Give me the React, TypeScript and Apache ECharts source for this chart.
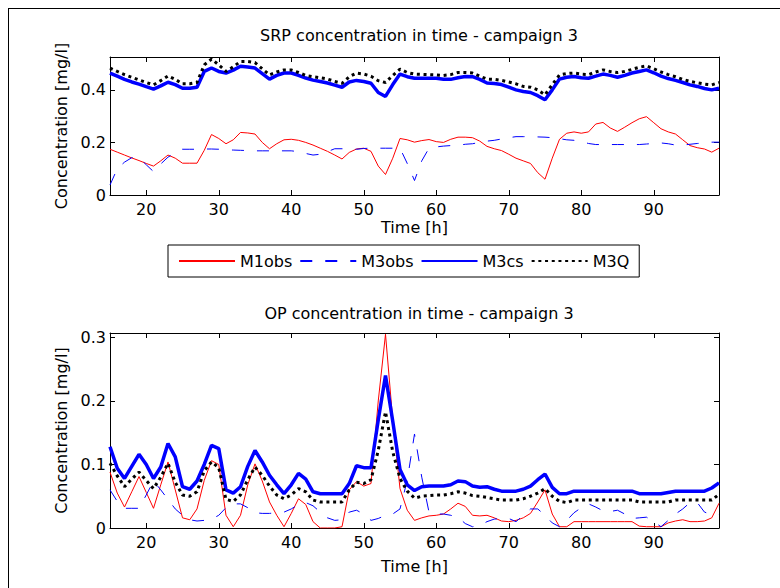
import React, { useEffect, useRef } from "react";
import * as echarts from "echarts";

// Time [h] for every sample: 15 .. 99
const hours: number[] = Array.from({ length: 85 }, (_, i) => 15 + i);

// ---- SRP (top) ----
const srpM1obs = [
  0.174, 0.163, 0.152, 0.141, 0.131, 0.120, 0.110, 0.130, 0.152, 0.140,
  0.121, 0.121, 0.121, 0.170, 0.230, 0.215, 0.195, 0.210, 0.238, 0.236,
  0.232, 0.200, 0.176, 0.195, 0.210, 0.212, 0.208, 0.200, 0.190, 0.178,
  0.166, 0.152, 0.137, 0.162, 0.175, 0.178, 0.166, 0.110, 0.078, 0.140,
  0.215, 0.210, 0.201, 0.207, 0.211, 0.203, 0.200, 0.212, 0.220, 0.220,
  0.218, 0.205, 0.185, 0.176, 0.169, 0.155, 0.140, 0.130, 0.120, 0.085,
  0.060, 0.140, 0.212, 0.235, 0.240, 0.235, 0.240, 0.270, 0.276, 0.255,
  0.242, 0.258, 0.275, 0.290, 0.298, 0.275, 0.252, 0.240, 0.232, 0.210,
  0.188, 0.180, 0.175, 0.163, 0.178,
];
const srpM3obs = [
  0.038, 0.100, 0.125, 0.142, 0.142, 0.115, 0.089, 0.118, 0.144, 0.160,
  0.174, 0.174, 0.174, 0.175, 0.175, 0.174, 0.172, 0.171, 0.170, 0.169,
  0.168, 0.168, 0.168, 0.168, 0.168, 0.168, 0.165, 0.158, 0.152, 0.155,
  0.165, 0.176, 0.176, 0.175, 0.174, 0.177, 0.178, 0.178, 0.178, 0.178,
  0.178, 0.120, 0.055, 0.130, 0.178, 0.183, 0.186, 0.188, 0.189, 0.193,
  0.195, 0.200, 0.205, 0.208, 0.213, 0.218, 0.222, 0.222, 0.222, 0.221,
  0.220, 0.218, 0.214, 0.210, 0.208, 0.203, 0.196, 0.192, 0.192, 0.192,
  0.192, 0.192, 0.192, 0.192, 0.194, 0.196, 0.198, 0.195, 0.190, 0.190,
  0.193, 0.196, 0.198, 0.201, 0.201,
];
const srpM3cs = [
  0.464, 0.452, 0.440, 0.430, 0.422, 0.412, 0.403, 0.415, 0.429, 0.420,
  0.406, 0.406, 0.410, 0.470, 0.483, 0.470, 0.464, 0.475, 0.490, 0.487,
  0.483, 0.462, 0.441, 0.455, 0.464, 0.464, 0.455, 0.445, 0.437, 0.432,
  0.426, 0.418, 0.410, 0.430, 0.436, 0.432, 0.425, 0.390, 0.375, 0.420,
  0.460, 0.450, 0.444, 0.444, 0.444, 0.444, 0.440, 0.440, 0.446, 0.451,
  0.450, 0.440, 0.426, 0.424, 0.420, 0.410, 0.400, 0.394, 0.390, 0.378,
  0.362, 0.400, 0.441, 0.448, 0.451, 0.446, 0.444, 0.452, 0.460, 0.455,
  0.448, 0.455, 0.464, 0.470, 0.476, 0.465, 0.452, 0.443, 0.436, 0.428,
  0.419, 0.413, 0.405, 0.400, 0.406,
];
const srpM3Q = [
  0.483, 0.470, 0.458, 0.448, 0.438, 0.428, 0.419, 0.435, 0.453, 0.440,
  0.423, 0.423, 0.428, 0.495, 0.517, 0.495, 0.470, 0.488, 0.508, 0.508,
  0.504, 0.480, 0.457, 0.468, 0.476, 0.476, 0.466, 0.455, 0.450, 0.446,
  0.441, 0.432, 0.425, 0.450, 0.464, 0.460, 0.452, 0.435, 0.428, 0.455,
  0.479, 0.466, 0.460, 0.459, 0.458, 0.457, 0.455, 0.458, 0.466, 0.466,
  0.464, 0.452, 0.441, 0.440, 0.436, 0.430, 0.423, 0.413, 0.410, 0.400,
  0.381, 0.420, 0.457, 0.462, 0.464, 0.460, 0.458, 0.468, 0.476, 0.470,
  0.466, 0.470, 0.478, 0.486, 0.491, 0.480, 0.468, 0.458, 0.450, 0.440,
  0.432, 0.427, 0.422, 0.419, 0.428,
];

// ---- OP (bottom) ----
const opM1obs = [
  0.088, 0.055, 0.033, 0.057, 0.081, 0.056, 0.031, 0.068, 0.104, 0.060,
  0.016, 0.013, 0.030, 0.075, 0.106, 0.100, 0.020, 0.002, 0.020, 0.068,
  0.101, 0.074, 0.041, 0.020, 0.002, 0.023, 0.046, 0.037, 0.010, 0.000,
  0.000, 0.000, 0.002, 0.060, 0.073, 0.066, 0.070, 0.200, 0.305, 0.170,
  0.062, 0.028, 0.012, 0.016, 0.019, 0.020, 0.022, 0.030, 0.039, 0.034,
  0.020, 0.019, 0.020, 0.016, 0.011, 0.010, 0.012, 0.016, 0.023, 0.041,
  0.060, 0.022, 0.002, 0.002, 0.010, 0.010, 0.010, 0.010, 0.010, 0.010,
  0.010, 0.010, 0.010, 0.003, 0.002, 0.002, 0.002, 0.008, 0.011, 0.013,
  0.010, 0.010, 0.011, 0.016, 0.039,
];
const opM3obs = [
  0.060, 0.042, 0.031, 0.031, 0.031, 0.052, 0.074, 0.060, 0.045, 0.030,
  0.020, 0.013, 0.011, 0.012, 0.014, 0.020, 0.032, 0.038, 0.038, 0.032,
  0.024, 0.023, 0.023, 0.024, 0.025, 0.030, 0.037, 0.040, 0.035, 0.025,
  0.016, 0.012, 0.013, 0.025, 0.028, 0.022, 0.012, 0.015, 0.020, 0.022,
  0.030, 0.075, 0.148, 0.080, 0.025, 0.022, 0.022, 0.020, 0.017, 0.007,
  0.002, 0.004, 0.010, 0.014, 0.015, 0.015, 0.010, 0.020, 0.030, 0.030,
  0.020, 0.008, 0.002, 0.012, 0.024, 0.032, 0.038, 0.033, 0.027, 0.026,
  0.028, 0.022, 0.015, 0.016, 0.017, 0.010, 0.002, 0.012, 0.022, 0.030,
  0.040, 0.040, 0.025, 0.021, 0.021,
];
const opM3cs = [
  0.128, 0.094, 0.078, 0.097, 0.116, 0.100, 0.078, 0.096, 0.133, 0.112,
  0.065, 0.061, 0.074, 0.100, 0.130, 0.125, 0.060, 0.055, 0.065, 0.097,
  0.122, 0.104, 0.083, 0.068, 0.054, 0.068, 0.086, 0.077, 0.057, 0.054,
  0.054, 0.054, 0.054, 0.070, 0.098, 0.095, 0.095, 0.170, 0.240, 0.168,
  0.092, 0.068, 0.059, 0.065, 0.066, 0.066, 0.066, 0.068, 0.074, 0.073,
  0.066, 0.064, 0.065, 0.061, 0.058, 0.058, 0.058, 0.061, 0.066, 0.076,
  0.085, 0.064, 0.054, 0.054, 0.058, 0.058, 0.058, 0.058, 0.058, 0.058,
  0.058, 0.058, 0.058, 0.054, 0.054, 0.054, 0.054, 0.056, 0.058, 0.058,
  0.058, 0.058, 0.058, 0.063, 0.071,
];
const opM3Q = [
  0.102, 0.082, 0.065, 0.077, 0.088, 0.075, 0.062, 0.080, 0.102, 0.072,
  0.052, 0.050, 0.057, 0.090, 0.104, 0.095, 0.045, 0.042, 0.052, 0.076,
  0.096, 0.083, 0.066, 0.052, 0.046, 0.052, 0.062, 0.057, 0.044, 0.041,
  0.041, 0.041, 0.041, 0.060, 0.072, 0.070, 0.076, 0.122, 0.183, 0.120,
  0.078, 0.058, 0.047, 0.050, 0.051, 0.052, 0.052, 0.054, 0.057, 0.055,
  0.051, 0.050, 0.048, 0.046, 0.044, 0.044, 0.044, 0.046, 0.050, 0.055,
  0.062, 0.050, 0.042, 0.040, 0.044, 0.044, 0.044, 0.044, 0.044, 0.044,
  0.044, 0.044, 0.044, 0.041, 0.041, 0.041, 0.041, 0.041, 0.044, 0.044,
  0.044, 0.044, 0.044, 0.044, 0.053,
];

const seriesNames = ["M1obs", "M3obs", "M3cs", "M3Q"];
const titles = ["SRP concentration in time - campaign 3", "OP concentration in time - campaign 3"];
const xName = "Time [h]";
const yName = "Concentration [mg/l]";

const FONT = "DejaVu Sans";
const FS = 16;

const pair = (vals: number[]) => hours.map((h, i) => [h, vals[i]]);

const styles = [
  { color: "#ff0000", width: 1, type: "solid" as any },
  { color: "#0000ff", width: 1, type: [12, 13] as any },
  { color: "#0000ff", width: 3.5, type: "solid" as any },
  { color: "#000000", width: 3, type: [3, 3.7] as any },
];

function makeAxes(grid: number, yMax: number, yInt: number, xGap: number) {
  const common = {
    gridIndex: grid,
    axisLine: { show: true, onZero: false, lineStyle: { color: "#000", width: 1 } },
    axisTick: { show: true, inside: true, length: 5, lineStyle: { color: "#000" } },
    splitLine: { show: false },
  };
  const xs = [
    {
      ...common,
      type: "value",
      position: "bottom",
      min: 15,
      max: 99,
      minInterval: 10,
      maxInterval: 10,
      name: xName,
      nameLocation: "middle",
      nameGap: xGap,
      nameTextStyle: { color: "#000", fontSize: FS, fontFamily: FONT },
      axisLabel: {
        color: "#000",
        fontSize: FS,
        fontFamily: FONT,
        margin: 6,
        showMinLabel: false,
        showMaxLabel: false,
        formatter: (v: number) => (v % 10 === 0 ? String(v) : ""),
      },
    },
    {
      ...common,
      type: "value",
      position: "top",
      min: 15,
      max: 99,
      minInterval: 10,
      maxInterval: 10,
      axisLabel: { show: false },
    },
  ];
  const ys = [
    {
      ...common,
      type: "value",
      position: "left",
      min: 0,
      max: yMax,
      interval: yInt,
      name: yName,
      nameLocation: "middle",
      nameGap: 40,
      nameTextStyle: { color: "#000", fontSize: FS, fontFamily: FONT },
      axisLabel: {
        color: "#000",
        fontSize: FS,
        fontFamily: FONT,
        margin: 4,
        showMaxLabel: false,
        formatter: (v: number) => {
          const r = Math.round(v / yInt);
          if (Math.abs(v - r * yInt) > 1e-6) return "";
          return r === 0 ? "0" : (r * yInt).toFixed(1);
        },
      },
    },
    {
      ...common,
      type: "value",
      position: "right",
      min: 0,
      max: yMax,
      interval: yInt,
      axisLabel: { show: false },
    },
  ];
  return { xs, ys };
}

export default function App() {
  const ref = useRef<HTMLDivElement>(null);
  useEffect(() => {
    if (!ref.current) return;
    const chart = echarts.init(ref.current, undefined, { renderer: "svg" });
    const a0 = makeAxes(0, 0.525, 0.2, 24);
    const a1 = makeAxes(1, 0.307, 0.1, 30);
    const topData = [srpM1obs, srpM3obs, srpM3cs, srpM3Q];
    const botData = [opM1obs, opM3obs, opM3cs, opM3Q];
    const series: any[] = [];
    topData.forEach((d, i) =>
      series.push({
        name: seriesNames[i],
        type: "line",
        xAxisIndex: 0,
        yAxisIndex: 0,
        data: pair(d),
        symbol: "none",
        lineStyle: { ...styles[i], cap: "butt" },
        itemStyle: { color: styles[i].color },
        z: i + 2,
      })
    );
    botData.forEach((d, i) =>
      series.push({
        name: seriesNames[i],
        type: "line",
        xAxisIndex: 2,
        yAxisIndex: 2,
        data: pair(d),
        symbol: "none",
        lineStyle: { ...styles[i], cap: "butt" },
        itemStyle: { color: styles[i].color },
        z: i + 2,
      })
    );
    chart.setOption({
      animation: false,
      backgroundColor: "#fff",
      textStyle: { fontFamily: FONT },
      title: [
        {
          text: titles[0],
          left: 414,
          top: 22,
          textAlign: "center",
          textStyle: { fontSize: FS, fontWeight: "normal", color: "#000", fontFamily: FONT },
        },
        {
          text: titles[1],
          left: 414,
          top: 300,
          textAlign: "center",
          textStyle: { fontSize: FS, fontWeight: "normal", color: "#000", fontFamily: FONT },
        },
      ],
      legend: {
        data: seriesNames,
        left: 168,
        top: 245,
        orient: "horizontal",
        itemWidth: 56,
        itemHeight: 14,
        itemGap: 7,
        padding: [8, 10],
        borderColor: "#000",
        borderWidth: 1,
        selectedMode: false,
        itemStyle: { opacity: 0 },
        textStyle: { fontSize: FS, color: "#000", fontFamily: FONT },
      },
      grid: [
        { left: 110, right: 61, top: 57, height: 138 },
        { left: 110, right: 61, top: 333, height: 195 },
      ],
      xAxis: [...a0.xs, ...a1.xs],
      yAxis: [...a0.ys, ...a1.ys],
      graphic: [
        { type: "line", shape: { x1: 8, y1: 8.5, x2: 780, y2: 8.5 }, style: { stroke: "#000", lineWidth: 1 } },
        { type: "line", shape: { x1: 8.5, y1: 8, x2: 8.5, y2: 588 }, style: { stroke: "#000", lineWidth: 1 } },
      ],
      series,
    });
    return () => chart.dispose();
  }, []);
  return <div ref={ref} style={{ width: 780, height: 588, position: "absolute", left: 0, top: 0 }} />;
}
